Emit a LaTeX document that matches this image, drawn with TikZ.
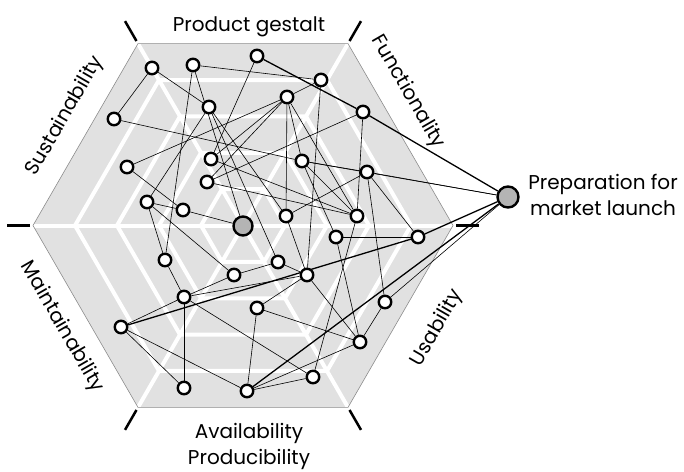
\documentclass[tikz,border=0pt]{standalone}
\usepackage{fontspec}
\setmainfont{Poppins}
\pgfdeclarelayer{base}
\pgfdeclarelayer{links}
\pgfsetlayers{base,links,main}
\definecolor{panel}{RGB}{225,225,225}
\definecolor{rim}{RGB}{140,140,140}
\definecolor{hubgray}{RGB}{180,180,180}
\begin{document}
\begin{tikzpicture}[x=1pt,y=-1pt,
  item/.style={circle,draw=black,fill=white,line width=2.4pt,minimum size=12.5pt,inner sep=0pt},
  hubnode/.style={circle,draw=black,fill=hubgray,line width=2.4pt,minimum size=19pt,inner sep=0pt},
  goalnode/.style={hubnode,minimum size=21pt},
  link/.style={line width=0.6pt},
  mainlink/.style={line width=1.3pt},
  web/.style={white,line width=4pt},
  rimline/.style={draw=rim,line width=0.6pt},
  tickmark/.style={line width=2.5pt,line cap=butt},
  lbl/.style={font=\fontsize{20}{25.5}\selectfont,inner sep=0pt}
]
\useasboundingbox (0,0) rectangle (684,471);
\coordinate (c0) at (243,225.5);

% hexagonal panel with its white web of rings and spokes
\begin{pgfonlayer}{base}
\begin{scope}[shift={(c0)}]
  \fill[panel] (0:210) -- (60:210) -- (120:210) -- (180:210) -- (240:210) -- (300:210) -- cycle;
  \begin{scope}
    \clip (0:210) -- (60:210) -- (120:210) -- (180:210) -- (240:210) -- (300:210) -- cycle;
    \foreach \k in {42,84,126,168}
      \draw[web] (0:\k) -- (60:\k) -- (120:\k) -- (180:\k) -- (240:\k) -- (300:\k) -- cycle;
    \foreach \a in {0,60,...,300}
      \draw[web] (0,0) -- (\a:210);
  \end{scope}
  \draw[rimline] (0:210) -- (60:210) -- (120:210) -- (180:210) -- (240:210) -- (300:210) -- cycle;
  \foreach \a in {0,60,...,300}
    \draw[tickmark] (\a:213) -- (\a:236);
\end{scope}
\end{pgfonlayer}

% axis labels
\node[lbl,anchor=base] (tProd) at (249,31) {Product gestalt};
\node[lbl,rotate=-60] (tFunc) at (408,92) {Functionality};
\node[lbl,rotate=60] (tUse) at (437,328) {Usability};
\node[lbl,rotate=-60] (tMaint) at (62,327) {Maintainability};
\node[lbl,rotate=60] (tSust) at (65,116) {Sustainability};
\node[lbl,align=center] (tAvail) at (249,446.5) {Availability\\Producibility};
\node[lbl,align=center] (tLaunch) at (603,195) {Preparation for\\market launch};

% nodes
\node[hubnode] (hub) at (243,226) {};
\node[goalnode] (mk) at (508,197) {};
\node[item] (nA) at (152,68) {};
\node[item] (nB) at (193,65) {};
\node[item] (nC) at (257,56) {};
\node[item] (nD) at (321,80) {};
\node[item] (nE) at (287,97) {};
\node[item] (nF) at (209,107) {};
\node[item] (nG) at (114,119) {};
\node[item] (nH) at (302,161) {};
\node[item] (nI) at (211,159) {};
\node[item] (nJ) at (127,167) {};
\node[item] (nK) at (207,182) {};
\node[item] (nL) at (147,202) {};
\node[item] (nM) at (183,210) {};
\node[item] (nN) at (286,216) {};
\node[item] (nO) at (336,237) {};
\node[item] (nP) at (363,112) {};
\node[item] (nQ) at (367,172) {};
\node[item] (nR) at (357,216) {};
\node[item] (nS) at (418,237) {};
\node[item] (nT) at (165,260) {};
\node[item] (nU) at (234,275) {};
\node[item] (nV) at (278,262) {};
\node[item] (nW) at (307,275) {};
\node[item] (nX) at (184,297) {};
\node[item] (nY) at (257,308) {};
\node[item] (nZ) at (121,327) {};
\node[item] (na) at (385,302) {};
\node[item] (nb) at (360,342) {};
\node[item] (nc) at (313,377) {};
\node[item] (nd) at (247,391) {};
\node[item] (ne) at (184,388) {};

% connectors
\begin{pgfonlayer}{links}
\foreach \u/\v in {nC/nP,nP/mk,nZ/nS,nS/mk,nd/mk}
  \draw[mainlink] (\u) -- (\v);
\foreach \u/\v in {nA/nG,nA/nF,nB/nD,nB/hub,nB/nT,nC/nI,nD/nE,nD/nW,nE/nJ,nE/nI,
                   nE/nK,nE/nN,nE/nR,nE/nH,nF/nL,nF/nN,nF/nV,nG/nH,nH/mk,nH/nQ,
                   nH/nR,nH/nO,nI/nR,nJ/nM,nK/nP,nK/nR,nL/nM,nM/hub,nL/nT,nL/nU,
                   nP/nR,nQ/mk,nQ/nN,nQ/nS,nQ/na,nN/nW,nO/nS,nO/nb,nR/nc,nT/nX,
                   nU/nV,nU/nX,nV/nW,nW/nX,nW/nY,nW/nb,nX/nZ,nX/ne,nX/nc,nY/nd,
                   nY/nb,nZ/nd,nZ/ne,na/nb,na/mk,nd/nb,nd/nc}
  \draw[link] (\u) -- (\v);
\end{pgfonlayer}
\end{tikzpicture}
\end{document}
